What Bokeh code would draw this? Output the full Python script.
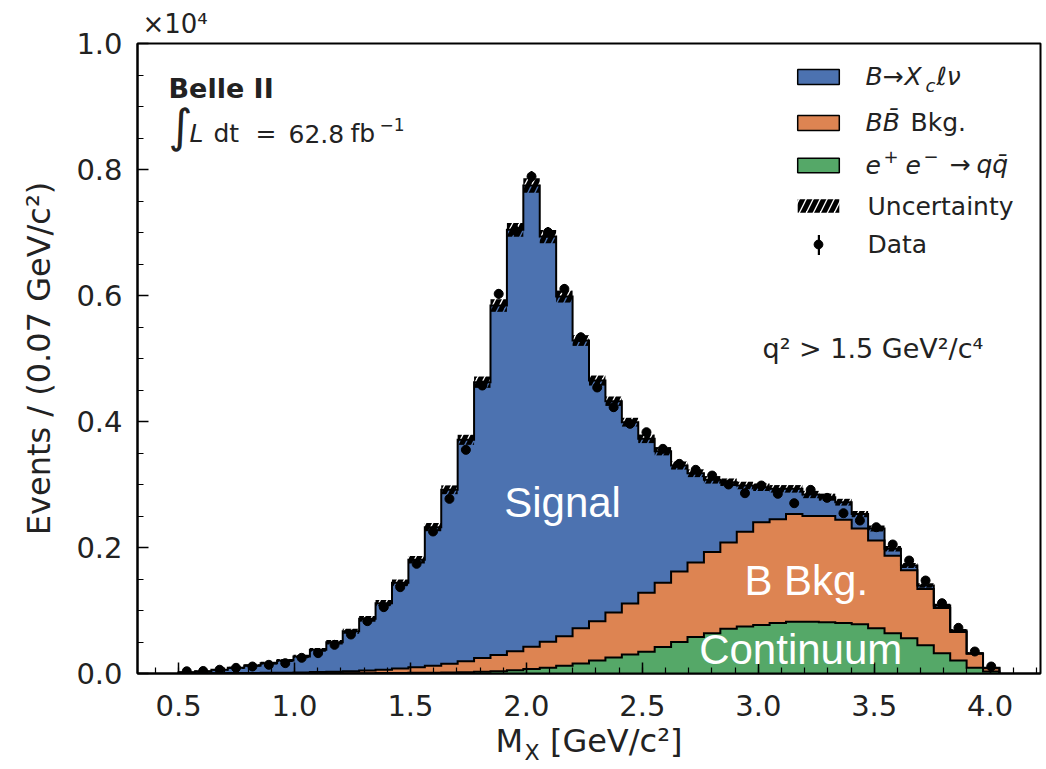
import numpy as np
from bokeh.plotting import figure
from bokeh.models import (ColumnDataSource, Range1d, FixedTicker, Label, Legend, LegendItem,
                          CustomJSTickFormatter, PrintfTickFormatter)
from bokeh.embed import file_html
from bokeh.resources import INLINE

# ---------------- data ----------------
bin_lo, bin_hi, n_bins = 0.5, 4.04, 50

cont = [0, 0, 0, 0, 1, 1, 1, 2, 2, 3,
        4, 5, 6, 8, 10, 12, 15, 20, 26, 35,
        50, 70, 92, 125, 160, 205, 255, 300, 345, 420,
        500, 580, 640, 710, 745, 770, 800, 820, 820, 815,
        800, 780, 720, 640, 560, 450, 320, 205, 90, 30]

bbkg = [2, 3, 4, 6, 7, 9, 12, 15, 20, 25,
        32, 41, 54, 70, 88, 113, 140, 175, 219, 260,
        305, 355, 413, 465, 560, 625, 715, 810, 935, 1020,
        1120, 1180, 1290, 1370, 1505, 1630, 1650, 1710, 1680, 1685,
        1640, 1520, 1390, 1230, 1080, 890, 720, 455, 225, 55]

signal = [19, 34, 54, 84, 119, 154, 193, 253, 354, 469,
          636, 822, 1056, 1361, 1707, 2197, 2761, 3514, 4379, 5546,
          6687, 7320, 6430, 5393, 4565, 3820, 3352, 2879, 2445, 2088,
          1681, 1419, 1144, 956, 734, 557, 481, 401, 341, 299,
          279, 230, 190, 109, 74, 57, 39, 22, 8, 5]

data = [35, 40, 60, 90, 111, 138, 164, 249, 323, 455,
        619, 831, 1053, 1370, 1741, 2254, 2772, 3550, 4571, 6026,
        7031, 7888, 7004, 6105, 5337, 4540, 4227, 3963, 3830, 3566,
        3328, 3233, 3142, 3000, 2862, 2984, 2852, 2703, 2915, 2788,
        2544, 2428, 2322, 2048, 1793, 1476, 1116, 725, 349, 111]

data_err = [6, 6, 8, 9, 11, 12, 13, 16, 18, 21,
            25, 29, 32, 37, 42, 47, 53, 60, 68, 78,
            84, 89, 84, 78, 73, 67, 65, 63, 62, 60,
            58, 57, 56, 55, 53, 55, 53, 52, 54, 53,
            50, 49, 48, 45, 42, 38, 33, 27, 19, 11]

unc = [10, 12, 15, 18, 20, 22, 25, 28, 30, 35,
       40, 45, 50, 55, 60, 65, 70, 80, 90, 100,
       110, 115, 105, 95, 85, 80, 75, 70, 68, 66,
       64, 62, 60, 60, 60, 60, 60, 60, 58, 56,
       54, 50, 48, 44, 40, 36, 30, 24, 16, 8]

x_ticks = [0.5, 1.0, 1.5, 2.0, 2.5, 3.0, 3.5, 4.0]
y_ticks = [0, 2000, 4000, 6000, 8000, 10000]

C_SIG, C_BKG, C_CONT = "#4C72B0", "#DD8452", "#55A868"
FONT = "DejaVu Sans"
TXT = "#222222"

# ---------------- derived ----------------
edges = np.linspace(bin_lo, bin_hi, n_bins + 1)
centers = 0.5 * (edges[:-1] + edges[1:])
c = np.array(cont, float)
b = np.array(bbkg, float)
s = np.array(signal, float)
lvl1 = c
lvl2 = c + b
lvl3 = c + b + s
u = np.array(unc, float)
d = np.array(data, float)
de = np.array(data_err, float)

def ext(a):
    return np.append(a, a[-1])

area_src = ColumnDataSource(dict(x=edges, z=np.zeros(n_bins + 1),
                                 l1=ext(lvl1), l2=ext(lvl2), l3=ext(lvl3)))

def step_src(top):
    return ColumnDataSource(dict(x=np.concatenate([[edges[0]], edges]),
                                 y=np.concatenate([[0.0], top, [0.0]])))

unc_src = ColumnDataSource(dict(left=edges[:-1], right=edges[1:],
                                bottom=lvl3 - u, top=lvl3 + u))
dat_src = ColumnDataSource(dict(x=centers, y=d, lo=d - de, hi=d + de))

# ---------------- figure ----------------
Y0, Y1 = 0, 10000
p = figure(width=1044, height=768, output_backend="svg", toolbar_location=None,
           x_range=Range1d(0.323, 4.217), y_range=Range1d(Y0, Y1),
           min_border_left=137, min_border_right=4, min_border_top=43, min_border_bottom=95)
p.xgrid.visible = False
p.ygrid.visible = False
p.outline_line_color = "black"
p.outline_line_width = 2
p.outline_line_alpha = 1
p.background_fill_color = "white"
p.border_fill_color = "white"

p.varea_step(x="x", y1="z", y2="l1", step_mode="after", source=area_src, fill_color=C_CONT)
p.varea_step(x="x", y1="l1", y2="l2", step_mode="after", source=area_src, fill_color=C_BKG)
p.varea_step(x="x", y1="l2", y2="l3", step_mode="after", source=area_src, fill_color=C_SIG)
for top in (lvl1, lvl2, lvl3):
    p.step(x="x", y="y", mode="after", source=step_src(top), line_color="black",
           line_width=2, line_join="miter")

r_unc = p.quad(left="left", right="right", bottom="bottom", top="top", source=unc_src,
               fill_alpha=0, line_alpha=0, hatch_pattern="/", hatch_color="black",
               hatch_weight=5, hatch_scale=14)
r_err = p.segment(x0="x", y0="lo", x1="x", y1="hi", source=dat_src, line_color="black", line_width=2)
r_dat = p.scatter(x="x", y="y", source=dat_src, size=9, color="black")

# ---------------- axes ----------------
p.xaxis.ticker = FixedTicker(ticks=x_ticks, minor_ticks=[round(0.4 + 0.1 * i, 1) for i in range(39)])
p.yaxis.ticker = FixedTicker(ticks=y_ticks, minor_ticks=list(range(0, 10001, 500)))
p.xaxis.formatter = PrintfTickFormatter(format="%.1f")
p.yaxis.formatter = CustomJSTickFormatter(code="return (tick/10000).toFixed(1);")
for ax in (p.xaxis, p.yaxis):
    ax.major_tick_in = 11
    ax.major_tick_out = 0
    ax.minor_tick_in = 6
    ax.minor_tick_out = 0
    ax.axis_line_width = 2
    ax.major_tick_line_width = 1.5
    ax.minor_tick_line_width = 1.2
    ax.major_label_text_font = FONT
    ax.major_label_text_font_size = "29px"
    ax.major_label_text_color = TXT
    ax.axis_label_text_font = FONT
    ax.axis_label_text_font_style = "normal"
    ax.axis_label_text_font_size = "32px"
    ax.axis_label_text_color = TXT
p.xaxis.major_label_standoff = 21
p.xaxis.axis_label_standoff = 3
p.xaxis.axis_label = "M\u00a0\u00a0\u2009[GeV/c²]"
p.yaxis.major_label_standoff = 15
p.yaxis.axis_label = "Events / (0.07 GeV/c²)"
p.yaxis.axis_label_standoff = 15

# ---------------- text helper ----------------
# Labels here render with their visual middle at the given y; shift by 0.35 em so
# that the given y is the alphabetic baseline.
PX2DATA = (Y1 - Y0) / 630.0

def lab(x, y, text, size, style="normal", font=FONT, color=TXT, align="left",
        xu="screen", yu="screen", place="center"):
    shift = 0.35 * size
    yy = y + (shift if yu == "screen" else shift * PX2DATA)
    lbl = Label(x=x, y=yy, x_units=xu, y_units=yu, text=text, text_font=font,
                text_font_size=f"{size}px", text_font_style=style, text_color=color,
                text_align=align, text_baseline="alphabetic")
    p.add_layout(lbl, place)

# subscript X of the x-axis label (left side panel, x in data units)
lab(1.992, -87, "X", 22, xu="data", place="left")

# multiplier (above panel)
lab(5, 10, "×10⁴", 26, place="above")

# experiment text
lab(31, 576, "Belle II", 27, style="bold")
lab(31, 531, "∫", 46)
lab(52, 531, "L", 25, style="italic")
lab(76, 531, "dt", 25)
lab(118, 531, "=", 25)
lab(151, 531, "62.8", 25)
lab(213, 531, "fb", 25)
lab(242, 543, "−1", 17)

# cut text
lab(625, 316, "q² > 1.5 GeV²/c⁴", 27)

# component names on the plot (data units)
lab(2.156, 2480, "Signal", 42, font="Liberation Sans", color="white", align="center", xu="data", yu="data")
lab(3.207, 1238, "B Bkg.", 42, font="Liberation Sans", color="white", align="center", xu="data", yu="data")
lab(3.183, 154, "Continuum", 42, font="Liberation Sans", color="white", align="center", xu="data", yu="data")

# ---------------- legend ----------------
nan = [float("nan")]
r_leg_sig = p.quad(left=nan, right=nan, bottom=nan, top=nan, fill_color=C_SIG, line_color="black", line_width=1.5)
r_leg_bkg = p.quad(left=nan, right=nan, bottom=nan, top=nan, fill_color=C_BKG, line_color="black", line_width=1.5)
r_leg_cont = p.quad(left=nan, right=nan, bottom=nan, top=nan, fill_color=C_CONT, line_color="black", line_width=1.5)
r_leg_bar = p.quad(left=nan, right=nan, bottom=nan, top=nan, fill_color="black", line_color=None)

def one_legend(r, loc, gw, gh):
    leg = Legend(items=[LegendItem(label=" ", renderers=[r])], location=loc,
                 padding=0, margin=0, spacing=0, glyph_width=gw, glyph_height=gh,
                 label_text_font_size="1px", label_height=1, label_width=1, label_standoff=0,
                 border_line_alpha=0, background_fill_alpha=0)
    p.add_layout(leg)

one_legend(r_leg_sig, (655, 587), 52, 19)
one_legend(r_leg_bkg, (655, 541), 52, 19)
one_legend(r_leg_cont, (655, 499), 52, 18)
one_legend(r_unc, (655, 459), 52, 17)
one_legend(r_leg_bar, (680, 416), 3, 25)
one_legend(r_dat, (670, 418), 22, 22)

# legend texts
lab(728, 588, "B", 25, style="italic")
lab(745, 588, "→", 25)
lab(767, 588, "X", 25, style="italic")
lab(788, 582, "c", 18, style="italic")
lab(799, 588, "ℓν", 25, style="italic")

lab(728, 542, "BB̄", 25, style="italic")
lab(773, 542, "Bkg.", 25)

lab(728, 500, "e", 25, style="italic")
lab(746, 511, "+", 18)
lab(768, 500, "e", 25, style="italic")
lab(786, 511, "−", 18)
lab(812, 500, "→", 25)
lab(839, 500, "qq̄", 25, style="italic")

lab(730, 458, "Uncertainty", 25)
lab(730, 420, "Data", 25)

open("out.html", "w").write(file_html(p, INLINE))
